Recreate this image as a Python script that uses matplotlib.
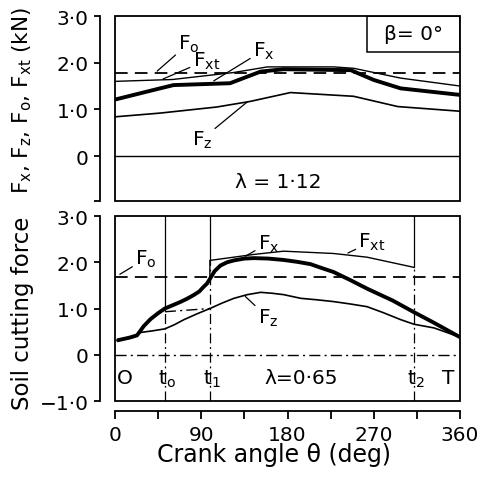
import matplotlib
matplotlib.use("Agg")
import matplotlib.pyplot as plt
from matplotlib.patches import Rectangle

plt.rcParams['font.family'] = ['DejaVu Sans']
plt.rcParams['mathtext.default'] = 'regular'

# ---- data: top panel (lambda = 1.12) ----
top_fo = 1.78
top_fxt_deg = [0, 60, 124, 159, 228, 249, 298, 360]
top_fxt_val = [1.60, 1.64, 1.79, 1.91, 1.91, 1.88, 1.67, 1.50]
top_fx_deg = [0, 47, 61, 120, 152, 176, 246, 270, 298, 360]
top_fx_val = [1.21, 1.45, 1.52, 1.56, 1.81, 1.86, 1.84, 1.63, 1.45, 1.31]
top_fz_deg = [0, 47, 106, 141, 183, 249, 295, 360]
top_fz_val = [0.84, 0.92, 1.05, 1.17, 1.36, 1.28, 1.06, 0.96]

# ---- data: bottom panel (lambda = 0.65) ----
bot_fo = 1.69
bot_fx_deg = [2, 15, 23, 30, 37, 45, 52, 60, 68, 75, 82, 88, 92, 96, 99, 104, 110, 117, 124, 135, 145, 160, 176, 190, 204, 215, 228, 245, 263, 290, 312, 333, 360]
bot_fx_val = [0.31, 0.37, 0.42, 0.62, 0.77, 0.90, 1.00, 1.07, 1.14, 1.21, 1.29, 1.37, 1.46, 1.54, 1.64, 1.81, 1.93, 2.00, 2.04, 2.08, 2.09, 2.08, 2.05, 2.01, 1.96, 1.88, 1.79, 1.62, 1.43, 1.17, 0.92, 0.69, 0.38]
bot_fz_deg = [2, 15, 23, 26, 40, 52, 62, 72, 85, 99, 112, 124, 138, 152, 164, 176, 194, 210, 228, 245, 263, 280, 298, 312, 333, 360]
bot_fz_val = [0.31, 0.37, 0.42, 0.48, 0.52, 0.56, 0.65, 0.76, 0.88, 1.00, 1.12, 1.22, 1.30, 1.35, 1.33, 1.30, 1.22, 1.19, 1.15, 1.10, 1.04, 0.91, 0.76, 0.66, 0.58, 0.38]
bot_fxt_pre_deg = [52, 99]
bot_fxt_pre_val = [0.93, 1.00]
bot_fxt_deg = [99, 99, 145, 176, 228, 263, 312]
bot_fxt_val = [1.64, 2.04, 2.17, 2.24, 2.19, 2.11, 1.89]
t_marks = [52, 99, 312]
t_split = [0.96, 2.04, 1.89]
t_names = ['t$_{o}$', 't$_{1}$', 't$_{2}$']

yticks = [-1.0, 0.0, 1.0, 2.0, 3.0]
ytick_labels = ['\u22121\u00b70', '0', '1\u00b70', '2\u00b70', '3\u00b70']
xticks = [0, 45, 90, 135, 180, 225, 270, 315, 360]
xtick_labels = ['0', '', '90', '', '180', '', '270', '', '360']

fig = plt.figure(figsize=(4.93, 4.81), dpi=100)
ax1 = fig.add_axes([0.2333, 0.580, 0.6998, 0.3846])
ax2 = fig.add_axes([0.2333, 0.1642, 0.6998, 0.3846])

FS = 14.5
LFS = 14.5
thin = 1.0
thick = 2.8
DASHDOT = (0, (8, 3, 1.5, 3))

for ax in (ax1, ax2):
    ax.set_xlim(0, 360)
    for s in ('top', 'right'):
        ax.spines[s].set_visible(False)
    ax.spines['left'].set_position(('outward', 11))
    ax.spines['left'].set_linewidth(1.3)
    ax.add_patch(Rectangle((0, 0), 1, 1, transform=ax.transAxes, fill=False,
                           lw=1.3, ec='black', clip_on=False, zorder=5))
    ax.tick_params(axis='y', direction='out', length=4, width=1.3, pad=4, labelsize=FS)

# ---- top panel ----
ax1.set_ylim(-0.964, 3.0)
ax1.spines['bottom'].set_visible(False)
ax1.set_xticks([])
ax1.set_yticks([-0.964] + yticks[1:])
ax1.set_yticklabels([''] + ytick_labels[1:])
ax1.axhline(0, color='black', lw=thin)
ax1.axhline(top_fo, color='black', lw=1.3, ls=(0, (7, 4)))
ax1.plot(top_fxt_deg, top_fxt_val, color='black', lw=thin)
ax1.plot(top_fx_deg, top_fx_val, color='black', lw=thick, solid_capstyle='butt')
ax1.plot(top_fz_deg, top_fz_val, color='black', lw=thin + 0.2)
ax1.add_patch(Rectangle((0.730, 0.805), 0.270, 0.195, transform=ax1.transAxes,
                        fill=False, lw=1.1, ec='black'))
ax1.text(0.865, 0.905, '\u03b2= 0\u00b0', transform=ax1.transAxes, ha='center',
         va='center', fontsize=LFS)
ax1.text(170, -0.54, '\u03bb = 1\u00b712', ha='center', va='center', fontsize=LFS)

lab = dict(ha='left', va='center', fontsize=LFS,
           arrowprops=dict(arrowstyle='-', lw=0.9, color='black', shrinkA=0, shrinkB=0))
ax1.annotate('F$_{o}$', xy=(44, 1.82), xytext=(66, 2.42), **lab)
ax1.annotate('F$_{xt}$', xy=(50, 1.65), xytext=(81, 2.05), **lab)
ax1.annotate('F$_{x}$', xy=(103, 1.61), xytext=(144, 2.27), **lab)
ax1.annotate('F$_{z}$', xy=(138, 1.16), xytext=(80, 0.36), **lab)

# ---- bottom panel ----
ax2.set_ylim(-1.0, 3.0)
ax2.set_yticks(yticks)
ax2.set_yticklabels(ytick_labels)
ax2.spines['bottom'].set_position(('outward', 7))
ax2.spines['bottom'].set_linewidth(1.3)
ax2.set_xticks(xticks)
ax2.set_xticklabels(xtick_labels)
ax2.tick_params(axis='x', direction='out', length=6, width=1.3, pad=4, labelsize=FS)
ax2.axhline(0, color='black', lw=thin, ls=DASHDOT)
ax2.axhline(bot_fo, color='black', lw=1.3, ls=(0, (7, 4)))
for t, ys in zip(t_marks, t_split):
    ax2.plot([t, t], [ys, 3.0], color='black', lw=0.9)
    ax2.plot([t, t], [-1.0, ys], color='black', lw=0.9, ls=DASHDOT)
ax2.plot(bot_fxt_pre_deg, bot_fxt_pre_val, color='black', lw=thin, ls=DASHDOT)
ax2.plot(bot_fxt_deg, bot_fxt_val, color='black', lw=thin)
ax2.plot(bot_fz_deg, bot_fz_val, color='black', lw=thin + 0.2)
ax2.plot(bot_fx_deg, bot_fx_val, color='black', lw=thick, solid_capstyle='butt')

ax2.annotate('F$_{x}$', xy=(136, 2.13), xytext=(149, 2.42), **lab)
ax2.annotate('F$_{xt}$', xy=(243, 2.20), xytext=(254, 2.45), **lab)
ax2.annotate('F$_{o}$', xy=(5, 1.74), xytext=(21, 2.08), **lab)
ax2.annotate('F$_{z}$', xy=(136, 1.26), xytext=(149, 0.80), **lab)

ax2.text(10, -0.50, 'O', ha='center', va='center', fontsize=LFS)
for t, name in zip(t_marks, t_names):
    ax2.text(t + 2, -0.50, name, ha='center', va='center', fontsize=LFS)
ax2.text(348, -0.50, 'T', ha='center', va='center', fontsize=LFS)
ax2.text(194, -0.50, '\u03bb=0\u00b765', ha='center', va='center', fontsize=LFS)

fig.text(0.556, 0.054, 'Crank angle \u03b8 (deg)', ha='center', va='center', fontsize=17)

fig.text(0.045, 0.349, 'Soil cutting force', rotation=90, ha='center', va='center',
         fontsize=16.5)
fig.text(0.045, 0.790, 'F$_{x}$, F$_{z}$, F$_{o}$, F$_{xt}$ (kN)', rotation=90,
         ha='center', va='center', fontsize=15.5)

fig.savefig('out.png', dpi=100)
